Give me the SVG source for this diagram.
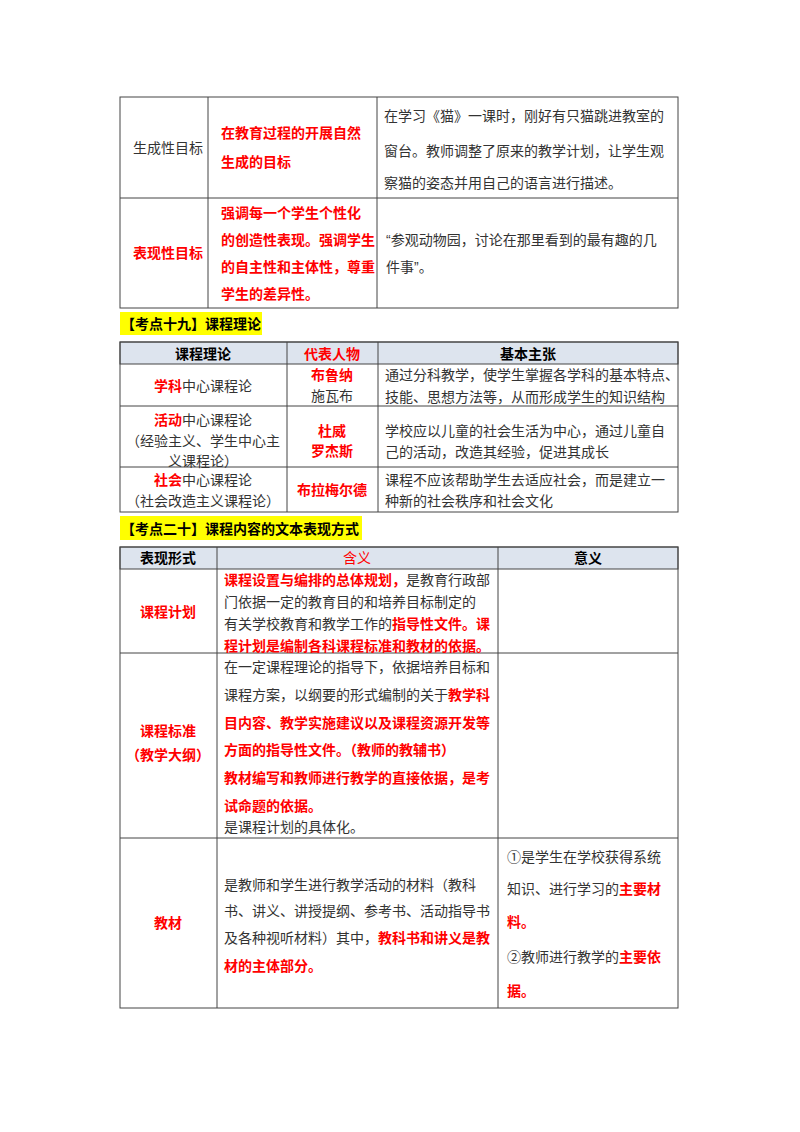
<svg xmlns="http://www.w3.org/2000/svg" width="800" height="1132" viewBox="0 0 800 1132">
<style>
text{font-family:"Liberation Sans","Noto Sans CJK SC",sans-serif;font-size:14px;fill:#333}
.r{fill:#f00;font-weight:bold}
.b{font-weight:bold;fill:#000}
.c{text-anchor:middle}
.g{fill:none;stroke:#444;stroke-width:1}
.hd{fill:#dde4ee;stroke:#444}
</style>
<rect width="800" height="1132" fill="#fff"/>
<g id="table1">
<rect class="g" x="120" y="97" width="558" height="211"/>
<path class="g" d="M208 97V308M377 97V308M120 198H678"/>
<text x="133" y="153">生成性目标</text>
<text class="r" x="221" y="138">在教育过程的开展自然</text>
<text class="r" x="221" y="167">生成的目标</text>
<text x="384" y="121">在学习《猫》一课时，刚好有只猫跳进教室的</text>
<text x="384" y="156">窗台。教师调整了原来的教学计划，让学生观</text>
<text x="384" y="188">察猫的姿态并用自己的语言进行描述。</text>
<text class="r" x="133" y="258">表现性目标</text>
<text class="r" x="221" y="218">强调每一个学生个性化</text>
<text class="r" x="221" y="245">的创造性表现。强调学生</text>
<text class="r" x="221" y="272">的自主性和主体性，尊重</text>
<text class="r" x="221" y="299">学生的差异性。</text>
<text x="386" y="245">“参观动物园，讨论在那里看到的最有趣的几</text>
<text x="386" y="272">件事”。</text>
</g>
<g id="heading19">
<rect x="120" y="312" width="142" height="23" fill="#ff0"/>
<text class="b" x="121" y="329">【考点十九】课程理论</text>
</g>
<g id="table2">
<rect class="hd" x="120" y="342" width="558" height="22"/>
<rect class="g" x="120" y="342" width="558" height="170"/>
<path class="g" d="M287 342V512M378 342V512M120 406H678M120 467H678"/>
<text class="b c" x="203" y="359">课程理论</text>
<text class="r c" x="332" y="359">代表人物</text>
<text class="b c" x="528" y="359">基本主张</text>
<text class="c" x="203" y="391"><tspan class="r">学科</tspan>中心课程论</text>
<text class="r c" x="332" y="380">布鲁纳</text>
<text class="c" x="332" y="401">施瓦布</text>
<text x="385" y="380">通过分科教学，使学生掌握各学科的基本特点、</text>
<text x="385" y="402">技能、思想方法等，从而形成学生的知识结构</text>
<text class="c" x="203" y="425"><tspan class="r">活动</tspan>中心课程论</text>
<text class="c" x="203" y="446">（经验主义、学生中心主</text>
<text class="c" x="203" y="466">义课程论）</text>
<text class="r c" x="332" y="436">杜威</text>
<text class="r c" x="332" y="456">罗杰斯</text>
<text x="385" y="436">学校应以儿童的社会生活为中心，通过儿童自</text>
<text x="385" y="457">己的活动，改造其经验，促进其成长</text>
<text class="c" x="203" y="485"><tspan class="r">社会</tspan>中心课程论</text>
<text class="c" x="203" y="506">（社会改造主义课程论）</text>
<text class="r c" x="332" y="495">布拉梅尔德</text>
<text x="385" y="485">课程不应该帮助学生去适应社会，而是建立一</text>
<text x="385" y="506">种新的社会秩序和社会文化</text>
</g>
<g id="heading20">
<rect x="120" y="516" width="242" height="24" fill="#ff0"/>
<text class="b" x="121" y="534">【考点二十】课程内容的文本表现方式</text>
</g>
<g id="table3">
<rect class="hd" x="120" y="547" width="558" height="22"/>
<rect class="g" x="120" y="547" width="558" height="461"/>
<path class="g" d="M217 547V1008M498 547V1008M120 653H678M120 838H678"/>
<text class="b c" x="168" y="563">表现形式</text>
<text class="r c" x="357" y="563" style="font-weight:normal">含义</text>
<text class="b c" x="588" y="563">意义</text>
<text class="r c" x="168" y="617">课程计划</text>
<text x="224" y="585"><tspan class="r">课程设置与编排的总体规划，</tspan>是教育行政部</text>
<text x="224" y="607">门依据一定的教育目的和培养目标制定的</text>
<text x="224" y="629">有关学校教育和教学工作的<tspan class="r">指导性文件。课</tspan></text>
<text class="r" x="224" y="651">程计划是编制各科课程标准和教材的依据。</text>
<text class="r c" x="168" y="736">课程标准</text>
<text class="r c" x="168" y="760">（教学大纲）</text>
<text x="224" y="672">在一定课程理论的指导下，依据培养目标和</text>
<text x="224" y="700">课程方案，以纲要的形式编制的关于<tspan class="r">教学科</tspan></text>
<text class="r" x="224" y="728">目内容、教学实施建议以及课程资源开发等</text>
<text class="r" x="224" y="755">方面的指导性文件。（教师的教辅书）</text>
<text class="r" x="224" y="783">教材编写和教师进行教学的直接依据，是考</text>
<text class="r" x="224" y="811">试命题的依据。</text>
<text x="224" y="832">是课程计划的具体化。</text>
<text class="r c" x="168" y="928">教材</text>
<text x="224" y="890">是教师和学生进行教学活动的材料（教科</text>
<text x="224" y="916">书、讲义、讲授提纲、参考书、活动指导书</text>
<text x="224" y="943">及各种视听材料）其中，<tspan class="r">教科书和讲义是教</tspan></text>
<text class="r" x="224" y="971">材的主体部分。</text>
<text x="507" y="862">①是学生在学校获得系统</text>
<text x="507" y="894">知识、进行学习的<tspan class="r">主要材</tspan></text>
<text class="r" x="507" y="927">料。</text>
<text x="507" y="962">②教师进行教学的<tspan class="r">主要依</tspan></text>
<text class="r" x="507" y="996">据。</text>
</g>
<g id="connectors"/>
</svg>
